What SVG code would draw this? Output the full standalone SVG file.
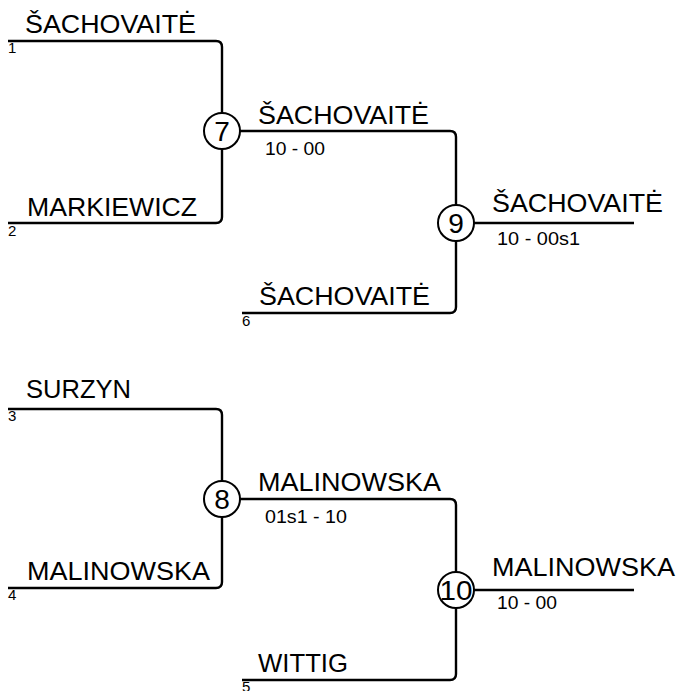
<svg xmlns="http://www.w3.org/2000/svg" width="680" height="691" viewBox="0 0 680 691">
<style>
.ln{fill:none;stroke:#000;stroke-width:2.4}
.c{fill:#fff;stroke:#000;stroke-width:2}
text{font-family:"Liberation Sans",Arial,sans-serif;fill:#000}
.nm{font-size:26px}
.sc{font-size:18px}
.sd{font-size:15px}
.cn{font-size:28px;text-anchor:middle}
</style>
<rect width="680" height="691" fill="#fff"/>
<g id="connectors">
<path class="ln" d="M8,41 H216 Q222,41 222,47 V217 Q222,223 216,223 H8"/>
<path class="ln" d="M222,131 H450 Q456,131 456,137 V307 Q456,313 450,313 H242"/>
<path class="ln" d="M456,223 H634"/>
<path class="ln" d="M8,409 H216 Q222,409 222,415 V582 Q222,588 216,588 H8"/>
<path class="ln" d="M222,499 H450 Q456,499 456,505 V674 Q456,680 450,680 H242"/>
<path class="ln" d="M456,590 H634"/>
</g>
<g id="p1"><text class="nm" x="25" y="33" textLength="171" lengthAdjust="spacingAndGlyphs">ŠACHOVAITĖ</text><text class="sd" x="8" y="53">1</text></g>
<g id="p2"><text class="nm" x="27" y="216" textLength="170" lengthAdjust="spacingAndGlyphs">MARKIEWICZ</text><text class="sd" x="8" y="236">2</text></g>
<g id="p3"><text class="nm" x="26" y="398" textLength="105" lengthAdjust="spacingAndGlyphs">SURZYN</text><text class="sd" x="8" y="421">3</text></g>
<g id="p4"><text class="nm" x="27" y="580" textLength="183" lengthAdjust="spacingAndGlyphs">MALINOWSKA</text><text class="sd" x="8" y="600">4</text></g>
<g id="p6"><text class="nm" x="259" y="305" textLength="171" lengthAdjust="spacingAndGlyphs">ŠACHOVAITĖ</text><text class="sd" x="242" y="326">6</text></g>
<g id="p5"><text class="nm" x="258" y="672" textLength="90" lengthAdjust="spacingAndGlyphs">WITTIG</text><text class="sd" x="242" y="692">5</text></g>
<g id="m7"><circle class="c" cx="222" cy="131" r="18"/><text class="cn" x="222" y="141">7</text>
<text class="nm" x="258" y="124" textLength="171" lengthAdjust="spacingAndGlyphs">ŠACHOVAITĖ</text><text class="sc" x="265" y="155" textLength="60" lengthAdjust="spacingAndGlyphs">10 - 00</text></g>
<g id="m9"><circle class="c" cx="456" cy="223" r="18"/><text class="cn" x="456" y="233">9</text>
<text class="nm" x="492" y="212" textLength="171" lengthAdjust="spacingAndGlyphs">ŠACHOVAITĖ</text><text class="sc" x="497" y="245" textLength="83" lengthAdjust="spacingAndGlyphs">10 - 00s1</text></g>
<g id="m8"><circle class="c" cx="222" cy="499" r="18"/><text class="cn" x="222" y="509">8</text>
<text class="nm" x="258" y="491" textLength="183" lengthAdjust="spacingAndGlyphs">MALINOWSKA</text><text class="sc" x="265" y="523" textLength="82" lengthAdjust="spacingAndGlyphs">01s1 - 10</text></g>
<g id="m10"><circle class="c" cx="456" cy="590" r="18"/><text class="cn" x="456" y="600" textLength="33" lengthAdjust="spacingAndGlyphs">10</text>
<text class="nm" x="492" y="576" textLength="183" lengthAdjust="spacingAndGlyphs">MALINOWSKA</text><text class="sc" x="497" y="609" textLength="60" lengthAdjust="spacingAndGlyphs">10 - 00</text></g>
</svg>
